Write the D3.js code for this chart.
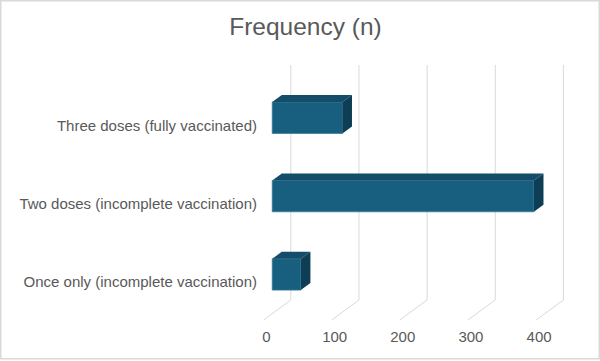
<!DOCTYPE html>
<html>
<head>
<meta charset="utf-8">
<script src="https://cdn.jsdelivr.net/npm/d3@7"></script>
<style>
  body { margin: 0; background: #fff; }
  text { font-family: "Liberation Sans", Arial, sans-serif; fill: #595959; }
</style>
</head>
<body>
<div id="chart"></div>
<script>
// data
var categories = ['Three doses (fully vaccinated)', 'Two doses (incomplete vaccination)', 'Once only (incomplete vaccination)'];
var values = [103, 384, 42];
var ticks = [0, 100, 200, 300, 400];
var title = 'Frequency (n)';

var width = 600, height = 361;
var svg = d3.select('#chart').append('svg')
            .attr('width', width)
            .attr('height', height);

// chart border
svg.append('rect')
   .attr('x', 0.75).attr('y', 0.75)
   .attr('width', 598.5).attr('height', 358)
   .style('fill', '#fff')
   .style('stroke', '#d9d9d9')
   .style('stroke-width', 1.5);

svg.append('text')
   .attr('x', 305.5).attr('y', 35)
   .attr('text-anchor', 'middle')
   .style('font-size', '24.5px')
   .text(title);

// front plane geometry, depth vector goes back-right-up
var x0 = 263.5;
var depthX = 27.3, depthY = -20;
var x = d3.scaleLinear().domain([0, 400]).range([x0, x0 + 272.6]);
var y = d3.scaleBand().domain(categories).range([85, 320]).paddingInner(0.6).paddingOuter(0.3);
var floorY = 320;

function pt(px, py, d) { return [px + d * depthX, py + d * depthY]; }

// back wall gridlines + floor lines
var grid = svg.append('g');
ticks.forEach(function (t) {
  var b = pt(x(t), floorY, 1);
  var top = pt(x(t), 85, 1);
  grid.append('path')
      .attr('d', d3.line()([top, b, [x(t), floorY]]))
      .style('fill', 'none')
      .style('stroke', '#d9d9d9')
      .style('stroke-width', 1);
});

// tick labels
svg.append('g').selectAll('text')
   .data(ticks).enter().append('text')
   .attr('x', function (d) { return x(d) + 3; })
   .attr('y', 342)
   .attr('text-anchor', 'middle')
   .style('font-size', '15px')
   .text(function (d) { return d; });

// category labels
svg.append('g').selectAll('text')
   .data(categories).enter().append('text')
   .attr('x', 257)
   .attr('y', function (d) { return y(d) + y.bandwidth() / 2 + 6.5; })
   .attr('text-anchor', 'end')
   .style('font-size', '15px')
   .text(function (d) { return d; });

// 3d bars
var d1 = 0.32, d2 = 0.67;
var line = d3.line();
var bars = svg.append('g').selectAll('g')
   .data(categories).enter().append('g');

bars.each(function (c, i) {
  var g = d3.select(this);
  var xl = x(0), xr = x(values[i]);
  var yt = y(c), yb = y(c) + y.bandwidth();
  var f1 = pt(xl, yt, d1), f2 = pt(xr, yt, d1), f3 = pt(xr, yb, d1), f4 = pt(xl, yb, d1);
  var b1 = pt(xl, yt, d2), b2 = pt(xr, yt, d2), b3 = pt(xr, yb, d2);
  g.append('path')
   .attr('d', line([f1, f2, f3, f4]) + 'Z')
   .style('fill', '#185e7f')
   .style('stroke', '#3a7b99')
   .style('stroke-width', 0.8);
  g.append('path')
   .attr('d', line([f1, b1, b2, f2]) + 'Z')
   .style('fill', '#134d69');
  g.append('path')
   .attr('d', line([f2, b2, b3, f3]) + 'Z')
   .style('fill', '#0e3e55');
});
</script>
</body>
</html>
